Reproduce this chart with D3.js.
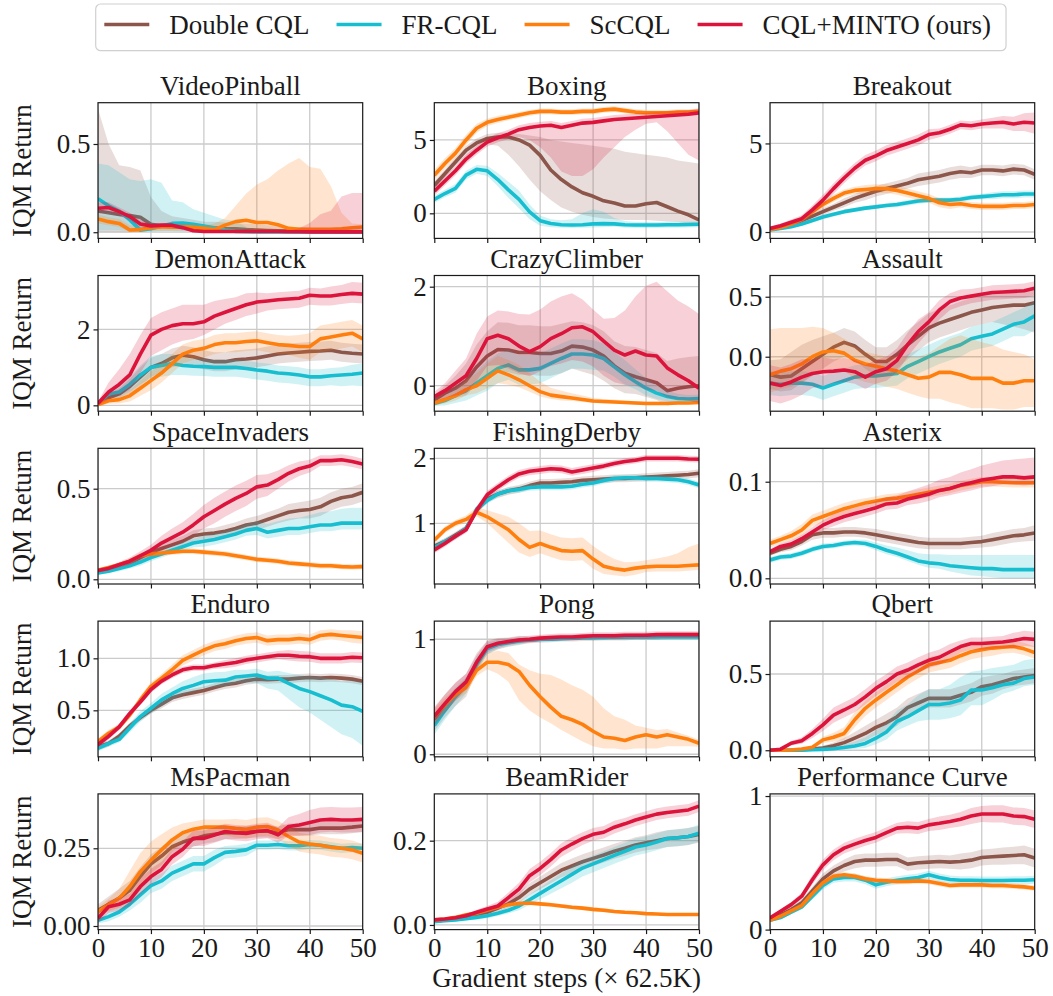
<!DOCTYPE html>
<html>
<head>
<meta charset="utf-8">
<script src="https://cdn.jsdelivr.net/npm/d3@7"></script>
<style>
  body { margin: 0; background: #fff; }
  svg { display: block; }
</style>
</head>
<body>
<svg id="chart" width="1053" height="996"></svg>
<script>
// ---------------------------------------------------------------------------
// Methods, colours and the shared x grid (gradient steps, x 62.5K)
// ---------------------------------------------------------------------------
const methods = ["Double CQL", "FR-CQL", "ScCQL", "CQL+MINTO (ours)"];
const colors = ["#8c564b", "#17becf", "#ff7f0e", "#dc143c"];
const steps = [0, 2, 4, 6, 8, 10, 12, 14, 16, 18, 20, 22, 24, 26, 28, 30, 32, 34, 36, 38, 40, 42, 44, 46, 48, 50];
const xTicks = [0, 10, 20, 30, 40, 50];

// Each game: IQM mean per method (rows: Double, FR, Sc, MINTO),
// plus distance from the mean down to / up to the confidence band.

// VideoPinball
const videoPinballMean = [
  [0.12,0.11,0.1,0.095,0.085,0.045,0.035,0.03,0.03,0.025,0.025,0.025,0.02,0.02,0.015,0.012,0.01,0.008,0.006,0.005,0.004,0.003,0.003,0.002,0.002,0.002],
  [0.19,0.15,0.12,0.07,0.012,0.02,0.035,0.05,0.052,0.045,0.035,0.025,0.012,0.005,0.003,0.002,0.002,0.002,0.002,0.002,0.002,0.002,0.002,0.002,0.002,0.002],
  [0.075,0.06,0.05,0.013,0.015,0.025,0.03,0.03,0.03,0.028,0.022,0.014,0.04,0.06,0.068,0.055,0.055,0.042,0.022,0.017,0.016,0.016,0.017,0.02,0.025,0.03],
  [0.136,0.14,0.117,0.089,0.047,0.036,0.04,0.04,0.026,0.008,0.004,0.004,0.004,0.004,0.004,0.004,0.004,0.004,0.003,0.003,0.002,0.002,0.002,0.002,0.002,0.002]
];
const videoPinballBelow = [
  [0.12,0.11,0.1,0.095,0.08,0.04,0.03,0.025,0.025,0.02,0.02,0.02,0.015,0.015,0.012,0.01,0.008,0.006,0.005,0.004,0.003,0.003,0.003,0.002,0.002,0.002],
  [0.18,0.14,0.11,0.065,0.01,0.018,0.03,0.045,0.048,0.04,0.03,0.02,0.01,0.004,0.002,0.002,0.002,0.002,0.002,0.002,0.002,0.002,0.002,0.002,0.002,0.002],
  [0.025,0.02,0.02,0.01,0.01,0.015,0.02,0.02,0.02,0.02,0.018,0.012,0.03,0.045,0.05,0.045,0.045,0.035,0.018,0.015,0.014,0.014,0.015,0.018,0.02,0.025],
  [0.03,0.03,0.025,0.02,0.02,0.015,0.015,0.015,0.012,0.006,0.004,0.004,0.004,0.004,0.004,0.004,0.004,0.004,0.003,0.003,0.002,0.002,0.002,0.002,0.002,0.002]
];
const videoPinballAbove = [
  [0.58,0.39,0.28,0.275,0.265,0.155,0.085,0.06,0.05,0.045,0.035,0.035,0.035,0.03,0.035,0.033,0.03,0.027,0.024,0.025,0.021,0.017,0.017,0.018,0.018,0.018],
  [0.2,0.23,0.22,0.23,0.278,0.28,0.245,0.13,0.118,0.085,0.075,0.065,0.058,0.06,0.027,0.013,0.008,0.008,0.008,0.008,0.008,0.008,0.008,0.008,0.008,0.008],
  [0.025,0.025,0.025,0.027,0.015,0.015,0.015,0.015,0.015,0.017,0.018,0.036,0.04,0.09,0.152,0.215,0.245,0.308,0.368,0.403,0.354,0.344,0.243,0.09,0.025,0.015],
  [0.034,0.03,0.023,0.021,0.023,0.014,0.01,0.01,0.014,0.012,0.006,0.006,0.006,0.006,0.006,0.006,0.006,0.006,0.007,0.02,0.05,0.1,0.12,0.2,0.22,0.22]
];
const videoPinballTicks = [0, 0.5];
const videoPinballTickLabels = ["0.0", "0.5"];

// Boxing
const boxingMean = [
  [1.9,2.7,3.5,4.3,4.8,5.1,5.2,5.2,5.0,4.65,3.95,2.95,2.3,1.8,1.4,1.16,0.85,0.7,0.5,0.5,0.65,0.74,0.45,0.15,-0.1,-0.45],
  [0.95,1.35,1.7,2.6,3.0,2.9,2.3,1.6,0.95,0.1,-0.5,-0.7,-0.78,-0.8,-0.78,-0.72,-0.7,-0.72,-0.78,-0.8,-0.8,-0.8,-0.78,-0.78,-0.76,-0.75],
  [2.6,3.4,4.1,5.0,5.8,6.2,6.4,6.55,6.7,6.85,6.95,6.95,6.9,6.9,6.95,6.95,7.05,7.1,7.0,6.9,6.85,6.85,6.85,6.9,6.9,6.95],
  [1.5,2.2,2.9,3.7,4.3,4.85,5.15,5.4,5.7,5.85,5.95,6.0,5.85,6.0,6.15,6.2,6.3,6.4,6.45,6.5,6.55,6.6,6.65,6.7,6.75,6.85]
];
const boxingBelow = [
  [0.3,0.3,0.3,0.4,0.4,0.4,0.6,1.2,1.8,2.35,2.45,2.05,1.9,1.7,1.5,1.41,1.2,1.1,0.95,0.95,1.1,1.24,1.0,0.75,0.6,0.35],
  [0.25,0.25,0.3,0.3,0.3,0.35,0.45,0.55,0.6,0.5,0.35,0.25,0.2,0.2,0.2,0.25,0.25,0.2,0.2,0.2,0.2,0.2,0.2,0.2,0.2,0.2],
  [0.35,0.35,0.35,0.35,0.3,0.25,0.25,0.2,0.2,0.2,0.2,0.2,0.2,0.2,0.2,0.2,0.2,0.2,0.2,0.2,0.2,0.2,0.2,0.2,0.2,0.2],
  [0.3,0.3,0.3,0.3,0.3,0.3,0.3,0.35,0.5,0.85,1.45,2.2,3.0,3.45,3.6,3.2,2.5,1.9,1.25,0.8,0.45,0.4,1.05,1.9,2.75,3.25]
];
const boxingAbove = [
  [0.3,0.3,0.3,0.3,0.3,0.3,0.3,0.3,0.4,0.65,1.25,2.05,2.6,3.0,3.3,3.44,3.65,3.7,3.7,3.6,3.35,3.16,3.35,3.45,3.6,3.85],
  [0.25,0.25,0.3,0.3,0.3,0.35,0.45,0.55,0.6,0.5,0.35,0.3,0.3,0.4,0.8,1.0,0.8,0.4,0.25,0.2,0.2,0.2,0.2,0.2,0.2,0.2],
  [0.35,0.35,0.35,0.35,0.3,0.25,0.25,0.2,0.2,0.2,0.2,0.2,0.2,0.2,0.2,0.2,0.2,0.2,0.2,0.2,0.2,0.2,0.2,0.2,0.2,0.2],
  [0.3,0.3,0.3,0.3,0.3,0.3,0.3,0.3,0.3,0.3,0.3,0.3,0.3,0.3,0.3,0.3,0.3,0.3,0.3,0.3,0.3,0.3,0.3,0.3,0.3,0.3]
];
const boxingTicks = [0, 5];
const boxingTickLabels = ["0", "5"];

// Breakout
const breakoutMean = [
  [0.15,0.25,0.4,0.65,0.9,1.15,1.4,1.65,1.9,2.1,2.3,2.45,2.6,2.75,2.95,3.05,3.15,3.3,3.4,3.35,3.5,3.5,3.45,3.55,3.5,3.25],
  [0.12,0.2,0.3,0.45,0.65,0.85,1.0,1.15,1.25,1.35,1.42,1.5,1.55,1.65,1.75,1.8,1.8,1.8,1.85,1.95,2.0,2.05,2.1,2.1,2.15,2.15],
  [0.15,0.25,0.45,0.7,1.15,1.55,1.9,2.2,2.35,2.4,2.45,2.45,2.35,2.2,2.05,1.9,1.65,1.55,1.6,1.5,1.45,1.45,1.45,1.5,1.5,1.55],
  [0.2,0.35,0.55,0.75,1.25,1.8,2.45,3.05,3.6,4.05,4.3,4.6,4.8,5.0,5.2,5.5,5.6,5.8,6.05,6.0,6.1,6.15,6.2,6.1,6.2,6.15]
];
const breakoutBelow = [
  [0.1,0.1,0.12,0.15,0.15,0.2,0.2,0.25,0.25,0.3,0.3,0.3,0.3,0.3,0.35,0.35,0.35,0.35,0.35,0.3,0.3,0.3,0.3,0.3,0.3,0.3],
  [0.08,0.08,0.1,0.1,0.12,0.12,0.12,0.12,0.12,0.12,0.12,0.12,0.15,0.15,0.15,0.15,0.15,0.15,0.15,0.15,0.15,0.2,0.2,0.2,0.2,0.2],
  [0.1,0.1,0.12,0.15,0.2,0.2,0.2,0.2,0.2,0.25,0.25,0.25,0.25,0.25,0.25,0.25,0.25,0.25,0.2,0.2,0.2,0.2,0.2,0.2,0.2,0.2],
  [0.1,0.12,0.15,0.2,0.25,0.3,0.3,0.3,0.3,0.3,0.3,0.3,0.3,0.3,0.3,0.3,0.25,0.25,0.25,0.25,0.25,0.3,0.35,0.4,0.5,0.6]
];
const breakoutAbove = breakoutBelow;
const breakoutTicks = [0, 5];
const breakoutTickLabels = ["0", "5"];

// DemonAttack
const demonAttackMean = [
  [0.05,0.2,0.3,0.5,0.75,1.0,1.1,1.25,1.32,1.28,1.2,1.15,1.15,1.2,1.22,1.25,1.3,1.35,1.38,1.4,1.42,1.43,1.45,1.4,1.37,1.35],
  [0.05,0.3,0.35,0.55,0.8,1.0,1.05,1.1,1.05,1.03,1.02,1.0,1.0,1.0,0.97,0.93,0.9,0.85,0.83,0.8,0.75,0.75,0.78,0.8,0.82,0.85],
  [0.02,0.12,0.15,0.25,0.45,0.65,0.85,1.1,1.35,1.45,1.5,1.6,1.65,1.65,1.68,1.7,1.65,1.6,1.58,1.55,1.55,1.75,1.8,1.85,1.9,1.75],
  [0.05,0.35,0.55,0.8,1.35,1.85,2.0,2.1,2.15,2.15,2.2,2.35,2.45,2.55,2.65,2.72,2.75,2.78,2.8,2.82,2.9,2.88,2.88,2.92,2.95,2.93]
];
const demonAttackBelow = [
  [0.05,0.1,0.15,0.2,0.25,0.25,0.25,0.25,0.25,0.25,0.25,0.25,0.25,0.25,0.25,0.25,0.25,0.25,0.25,0.25,0.25,0.25,0.25,0.25,0.25,0.25],
  [0.05,0.1,0.15,0.2,0.25,0.3,0.3,0.3,0.25,0.25,0.25,0.25,0.25,0.25,0.25,0.25,0.25,0.25,0.25,0.25,0.25,0.25,0.25,0.3,0.3,0.35],
  [0.05,0.08,0.1,0.15,0.2,0.25,0.25,0.25,0.25,0.25,0.25,0.25,0.25,0.25,0.25,0.25,0.25,0.25,0.25,0.3,0.35,0.35,0.35,0.35,0.35,0.35],
  [0.05,0.2,0.3,0.4,0.5,0.55,0.55,0.5,0.45,0.4,0.35,0.35,0.3,0.3,0.3,0.3,0.25,0.25,0.25,0.25,0.25,0.25,0.25,0.25,0.25,0.25]
];
const demonAttackAbove = [
  [0.05,0.1,0.15,0.2,0.25,0.25,0.25,0.25,0.25,0.25,0.25,0.25,0.25,0.25,0.25,0.25,0.25,0.25,0.25,0.25,0.25,0.25,0.25,0.25,0.25,0.25],
  [0.05,0.1,0.15,0.2,0.25,0.3,0.3,0.25,0.2,0.2,0.2,0.2,0.2,0.2,0.2,0.2,0.2,0.2,0.2,0.2,0.2,0.2,0.2,0.2,0.25,0.25],
  [0.05,0.08,0.1,0.15,0.2,0.25,0.25,0.25,0.25,0.25,0.25,0.25,0.25,0.25,0.25,0.25,0.25,0.25,0.25,0.3,0.35,0.35,0.35,0.35,0.35,0.35],
  [0.05,0.25,0.4,0.55,0.5,0.45,0.45,0.45,0.5,0.5,0.45,0.4,0.35,0.3,0.3,0.25,0.2,0.2,0.2,0.2,0.2,0.2,0.25,0.25,0.3,0.3]
];
const demonAttackTicks = [0, 2];
const demonAttackTickLabels = ["0", "2"];

// CrazyClimber
const crazyClimberMean = [
  [-0.29,-0.15,-0.05,0.1,0.38,0.6,0.73,0.72,0.67,0.67,0.65,0.65,0.7,0.8,0.78,0.72,0.6,0.4,0.25,0.18,0.12,0.06,-0.1,-0.05,-0.02,0.0],
  [-0.36,-0.3,-0.2,-0.1,0.05,0.2,0.35,0.42,0.32,0.32,0.35,0.45,0.55,0.64,0.64,0.62,0.55,0.38,0.22,0.08,-0.05,-0.15,-0.22,-0.26,-0.27,-0.26],
  [-0.35,-0.28,-0.2,-0.08,0.0,0.15,0.3,0.22,0.12,0.0,-0.12,-0.19,-0.22,-0.25,-0.28,-0.31,-0.32,-0.33,-0.34,-0.35,-0.36,-0.36,-0.36,-0.35,-0.35,-0.34],
  [-0.22,-0.1,0.05,0.2,0.55,0.95,1.02,0.95,0.8,0.69,0.79,0.95,1.05,1.17,1.19,1.09,0.9,0.72,0.62,0.7,0.62,0.6,0.36,0.22,0.1,-0.05]
];
const crazyClimberBelow = [
  [0.1,0.15,0.2,0.3,0.35,0.4,0.45,0.45,0.45,0.45,0.45,0.45,0.45,0.45,0.5,0.5,0.5,0.45,0.4,0.35,0.35,0.35,0.3,0.3,0.3,0.3],
  [0.05,0.1,0.15,0.2,0.25,0.3,0.3,0.3,0.3,0.3,0.3,0.3,0.3,0.3,0.3,0.3,0.25,0.2,0.2,0.15,0.15,0.12,0.1,0.08,0.08,0.08],
  [0.05,0.08,0.1,0.12,0.15,0.2,0.25,0.2,0.15,0.12,0.1,0.08,0.08,0.06,0.05,0.04,0.04,0.03,0.03,0.03,0.03,0.03,0.03,0.03,0.03,0.03],
  [0.1,0.15,0.25,0.35,0.45,0.55,0.6,0.6,0.55,0.5,0.5,0.55,0.6,0.65,0.7,0.7,0.7,0.65,0.6,0.7,0.7,0.7,0.6,0.5,0.4,0.3]
];
const crazyClimberAbove = [
  [0.1,0.15,0.25,0.35,0.45,0.5,0.55,0.55,0.55,0.55,0.55,0.55,0.55,0.5,0.5,0.5,0.5,0.5,0.55,0.6,0.6,0.6,0.6,0.6,0.6,0.6],
  [0.05,0.1,0.15,0.2,0.25,0.3,0.3,0.3,0.3,0.3,0.3,0.3,0.3,0.3,0.3,0.3,0.3,0.3,0.3,0.25,0.2,0.15,0.12,0.1,0.08,0.08],
  [0.05,0.08,0.12,0.2,0.25,0.3,0.3,0.3,0.3,0.25,0.2,0.15,0.12,0.1,0.08,0.06,0.05,0.05,0.04,0.04,0.04,0.04,0.04,0.04,0.04,0.04],
  [0.1,0.15,0.25,0.35,0.5,0.45,0.5,0.55,0.65,0.75,0.75,0.75,0.75,0.7,0.55,0.45,0.45,0.65,0.9,1.1,1.4,1.5,1.55,1.5,1.5,1.5]
];
const crazyClimberTicks = [0, 2];
const crazyClimberTickLabels = ["0", "2"];

// Assault
const assaultMean = [
  [-0.15,-0.17,-0.16,-0.1,-0.04,0.02,0.08,0.12,0.09,0.02,-0.04,-0.04,0.02,0.1,0.17,0.24,0.28,0.31,0.34,0.37,0.39,0.41,0.42,0.43,0.43,0.45],
  [-0.22,-0.23,-0.22,-0.22,-0.23,-0.26,-0.23,-0.2,-0.17,-0.16,-0.16,-0.15,-0.14,-0.08,-0.04,0.0,0.04,0.07,0.1,0.15,0.17,0.19,0.23,0.27,0.29,0.34],
  [-0.15,-0.12,-0.1,-0.06,0.0,0.04,0.05,0.03,-0.03,-0.06,-0.08,-0.1,-0.12,-0.15,-0.18,-0.17,-0.13,-0.13,-0.15,-0.18,-0.18,-0.18,-0.22,-0.22,-0.2,-0.2],
  [-0.22,-0.24,-0.21,-0.17,-0.14,-0.125,-0.12,-0.11,-0.125,-0.17,-0.125,-0.1,-0.03,0.1,0.21,0.29,0.39,0.46,0.49,0.505,0.52,0.535,0.54,0.545,0.55,0.57]
];
const assaultBelow = [
  [0.12,0.12,0.12,0.12,0.12,0.12,0.12,0.12,0.12,0.12,0.12,0.12,0.12,0.12,0.12,0.12,0.12,0.12,0.12,0.12,0.12,0.12,0.15,0.18,0.2,0.25],
  [0.1,0.1,0.1,0.1,0.1,0.1,0.1,0.1,0.1,0.1,0.1,0.1,0.1,0.1,0.1,0.1,0.1,0.1,0.1,0.1,0.1,0.1,0.1,0.1,0.12,0.12],
  [0.15,0.15,0.15,0.15,0.15,0.15,0.15,0.15,0.15,0.15,0.15,0.15,0.15,0.15,0.15,0.18,0.22,0.25,0.25,0.25,0.25,0.25,0.22,0.22,0.22,0.22],
  [0.15,0.15,0.15,0.15,0.12,0.12,0.1,0.1,0.1,0.1,0.1,0.1,0.1,0.1,0.1,0.08,0.08,0.07,0.07,0.06,0.06,0.06,0.06,0.06,0.06,0.06]
];
const assaultAbove = [
  [0.12,0.15,0.2,0.2,0.18,0.15,0.12,0.12,0.12,0.12,0.12,0.12,0.12,0.12,0.12,0.12,0.12,0.12,0.12,0.12,0.12,0.12,0.12,0.12,0.12,0.12],
  [0.1,0.1,0.1,0.1,0.1,0.1,0.1,0.1,0.1,0.1,0.1,0.1,0.1,0.1,0.1,0.1,0.1,0.1,0.1,0.1,0.1,0.1,0.1,0.1,0.12,0.12],
  [0.38,0.36,0.34,0.3,0.25,0.2,0.15,0.12,0.12,0.1,0.1,0.1,0.12,0.15,0.18,0.2,0.22,0.28,0.33,0.33,0.3,0.28,0.28,0.26,0.22,0.18],
  [0.15,0.15,0.15,0.15,0.12,0.12,0.1,0.1,0.1,0.1,0.1,0.1,0.1,0.1,0.1,0.08,0.08,0.07,0.07,0.06,0.06,0.06,0.06,0.06,0.06,0.06]
];
const assaultTicks = [0, 0.5];
const assaultTickLabels = ["0.0", "0.5"];

// SpaceInvaders
const spaceInvadersMean = [
  [0.04,0.05,0.07,0.09,0.12,0.15,0.17,0.19,0.21,0.24,0.25,0.255,0.265,0.28,0.3,0.31,0.33,0.35,0.37,0.38,0.385,0.4,0.43,0.45,0.46,0.48],
  [0.035,0.045,0.06,0.075,0.095,0.12,0.14,0.16,0.18,0.2,0.21,0.22,0.235,0.25,0.27,0.28,0.26,0.27,0.28,0.28,0.29,0.3,0.3,0.31,0.31,0.31],
  [0.05,0.065,0.08,0.1,0.13,0.14,0.145,0.15,0.155,0.155,0.15,0.145,0.14,0.13,0.12,0.11,0.105,0.1,0.09,0.085,0.08,0.075,0.075,0.07,0.068,0.07],
  [0.048,0.06,0.08,0.1,0.13,0.16,0.2,0.23,0.26,0.3,0.345,0.38,0.415,0.447,0.474,0.51,0.52,0.55,0.585,0.61,0.625,0.655,0.655,0.66,0.65,0.636]
];
const spaceInvadersBelow = [
  [0.01,0.01,0.015,0.02,0.02,0.025,0.025,0.03,0.03,0.03,0.03,0.03,0.035,0.035,0.035,0.04,0.04,0.04,0.045,0.045,0.05,0.05,0.05,0.05,0.05,0.05],
  [0.01,0.01,0.015,0.015,0.02,0.02,0.02,0.02,0.025,0.025,0.03,0.03,0.03,0.03,0.03,0.035,0.035,0.035,0.035,0.035,0.035,0.035,0.035,0.035,0.035,0.035],
  [0.01,0.01,0.012,0.015,0.015,0.015,0.015,0.015,0.015,0.015,0.015,0.015,0.015,0.015,0.015,0.015,0.015,0.015,0.015,0.015,0.015,0.015,0.015,0.015,0.015,0.015],
  [0.01,0.012,0.015,0.02,0.025,0.03,0.04,0.05,0.055,0.06,0.065,0.07,0.07,0.07,0.07,0.065,0.06,0.05,0.045,0.04,0.035,0.03,0.03,0.03,0.03,0.03]
];
const spaceInvadersAbove = [
  [0.01,0.01,0.015,0.02,0.02,0.025,0.025,0.03,0.03,0.03,0.03,0.03,0.035,0.035,0.035,0.04,0.04,0.04,0.045,0.045,0.05,0.05,0.05,0.05,0.05,0.05],
  [0.01,0.01,0.015,0.015,0.02,0.02,0.02,0.02,0.025,0.025,0.03,0.03,0.03,0.03,0.035,0.04,0.045,0.05,0.055,0.06,0.065,0.07,0.075,0.08,0.085,0.085],
  [0.01,0.01,0.012,0.015,0.015,0.015,0.015,0.015,0.015,0.015,0.015,0.015,0.015,0.015,0.015,0.015,0.015,0.015,0.015,0.015,0.015,0.015,0.015,0.015,0.015,0.015],
  [0.01,0.012,0.015,0.02,0.025,0.03,0.04,0.05,0.055,0.06,0.065,0.07,0.07,0.07,0.07,0.065,0.06,0.05,0.045,0.04,0.035,0.03,0.03,0.03,0.03,0.03]
];
const spaceInvadersTicks = [0, 0.5];
const spaceInvadersTickLabels = ["0.0", "0.5"];

// FishingDerby
const fishingDerbyMean = [
  [0.65,0.72,0.82,0.92,1.2,1.38,1.45,1.5,1.53,1.58,1.62,1.62,1.63,1.64,1.66,1.67,1.68,1.69,1.69,1.7,1.71,1.72,1.73,1.74,1.75,1.77],
  [0.62,0.72,0.8,0.92,1.22,1.35,1.45,1.5,1.52,1.55,1.56,1.56,1.56,1.57,1.6,1.62,1.66,1.69,1.7,1.7,1.69,1.69,1.68,1.67,1.64,1.59],
  [0.74,0.9,1.0,1.06,1.17,1.1,1.0,0.9,0.75,0.63,0.69,0.63,0.58,0.57,0.58,0.45,0.34,0.3,0.28,0.31,0.33,0.34,0.34,0.34,0.35,0.36],
  [0.59,0.69,0.8,0.9,1.2,1.44,1.56,1.67,1.76,1.8,1.82,1.84,1.83,1.79,1.82,1.85,1.88,1.92,1.95,1.97,2.0,2.0,2.0,2.0,1.99,1.985]
];
const fishingDerbyBelow = [
  [0.05,0.05,0.05,0.05,0.06,0.06,0.06,0.06,0.06,0.06,0.06,0.06,0.06,0.06,0.06,0.06,0.06,0.06,0.06,0.06,0.06,0.06,0.06,0.06,0.06,0.06],
  [0.05,0.05,0.05,0.05,0.05,0.05,0.05,0.05,0.05,0.05,0.05,0.05,0.05,0.05,0.05,0.05,0.05,0.05,0.05,0.05,0.05,0.05,0.05,0.05,0.05,0.05],
  [0.05,0.05,0.05,0.05,0.06,0.1,0.15,0.2,0.2,0.15,0.15,0.15,0.15,0.15,0.15,0.15,0.12,0.1,0.1,0.1,0.08,0.08,0.08,0.08,0.08,0.08],
  [0.05,0.05,0.05,0.05,0.06,0.06,0.06,0.06,0.06,0.06,0.06,0.06,0.06,0.06,0.06,0.06,0.05,0.05,0.05,0.05,0.05,0.05,0.05,0.05,0.05,0.05]
];
const fishingDerbyAbove = [
  [0.05,0.05,0.05,0.05,0.06,0.06,0.06,0.06,0.06,0.06,0.06,0.06,0.06,0.06,0.06,0.06,0.06,0.06,0.06,0.06,0.06,0.06,0.06,0.06,0.06,0.06],
  [0.05,0.05,0.05,0.05,0.05,0.05,0.05,0.05,0.05,0.05,0.05,0.05,0.05,0.05,0.05,0.05,0.05,0.05,0.05,0.05,0.05,0.05,0.05,0.05,0.05,0.05],
  [0.05,0.05,0.05,0.06,0.08,0.1,0.15,0.2,0.25,0.25,0.2,0.2,0.2,0.2,0.2,0.2,0.2,0.15,0.12,0.1,0.1,0.12,0.15,0.2,0.28,0.33],
  [0.05,0.05,0.05,0.05,0.06,0.06,0.06,0.06,0.06,0.06,0.06,0.06,0.06,0.06,0.06,0.06,0.05,0.05,0.05,0.05,0.05,0.05,0.05,0.05,0.05,0.05]
];
const fishingDerbyTicks = [1, 2];
const fishingDerbyTickLabels = ["1", "2"];

// Asterix
const asterixMean = [
  [0.026,0.03,0.033,0.038,0.045,0.047,0.047,0.048,0.048,0.047,0.045,0.043,0.041,0.039,0.037,0.036,0.036,0.036,0.036,0.037,0.038,0.04,0.042,0.044,0.045,0.047],
  [0.019,0.022,0.023,0.026,0.03,0.033,0.034,0.036,0.037,0.036,0.033,0.029,0.026,0.022,0.018,0.016,0.015,0.013,0.012,0.011,0.01,0.01,0.009,0.009,0.009,0.009],
  [0.036,0.04,0.044,0.05,0.06,0.064,0.068,0.072,0.075,0.078,0.08,0.082,0.083,0.085,0.087,0.089,0.091,0.093,0.096,0.098,0.1,0.1,0.0995,0.099,0.099,0.099],
  [0.0276,0.033,0.0355,0.041,0.048,0.055,0.06,0.064,0.067,0.07,0.073,0.077,0.078,0.082,0.0845,0.087,0.091,0.093,0.0965,0.099,0.1017,0.1034,0.105,0.105,0.104,0.105]
];
const asterixBelow = [
  [0.003,0.003,0.004,0.004,0.005,0.005,0.005,0.005,0.005,0.005,0.006,0.006,0.006,0.006,0.006,0.006,0.006,0.006,0.006,0.006,0.006,0.007,0.007,0.007,0.007,0.008],
  [0.003,0.003,0.003,0.003,0.003,0.003,0.003,0.003,0.003,0.003,0.004,0.004,0.004,0.004,0.004,0.005,0.005,0.006,0.007,0.008,0.008,0.009,0.009,0.009,0.009,0.009],
  [0.004,0.004,0.005,0.006,0.006,0.006,0.006,0.006,0.006,0.005,0.005,0.005,0.005,0.005,0.005,0.005,0.005,0.005,0.005,0.005,0.005,0.005,0.005,0.005,0.005,0.005],
  [0.003,0.003,0.004,0.004,0.005,0.005,0.006,0.006,0.006,0.006,0.006,0.006,0.006,0.006,0.007,0.007,0.007,0.007,0.008,0.008,0.008,0.008,0.008,0.008,0.008,0.008]
];
const asterixAbove = [
  [0.003,0.003,0.004,0.004,0.005,0.005,0.005,0.005,0.005,0.005,0.006,0.006,0.006,0.006,0.006,0.006,0.006,0.006,0.006,0.006,0.006,0.007,0.007,0.007,0.007,0.008],
  [0.003,0.003,0.003,0.003,0.003,0.003,0.003,0.003,0.003,0.004,0.004,0.005,0.006,0.007,0.008,0.009,0.01,0.011,0.012,0.013,0.014,0.014,0.015,0.015,0.015,0.015],
  [0.004,0.004,0.005,0.006,0.006,0.006,0.006,0.006,0.006,0.005,0.005,0.005,0.005,0.005,0.005,0.005,0.005,0.005,0.005,0.005,0.005,0.005,0.005,0.005,0.005,0.005],
  [0.003,0.003,0.004,0.004,0.005,0.005,0.006,0.006,0.006,0.006,0.007,0.007,0.008,0.008,0.009,0.01,0.011,0.012,0.013,0.014,0.015,0.016,0.017,0.018,0.02,0.02]
];
const asterixTicks = [0, 0.1];
const asterixTickLabels = ["0.0", "0.1"];

// Enduro
const enduroMean = [
  [0.15,0.18,0.25,0.35,0.43,0.5,0.56,0.62,0.65,0.67,0.69,0.72,0.745,0.76,0.785,0.8,0.795,0.8,0.8,0.81,0.815,0.81,0.815,0.81,0.8,0.78],
  [0.135,0.18,0.22,0.33,0.44,0.52,0.6,0.66,0.71,0.74,0.775,0.785,0.79,0.82,0.83,0.84,0.81,0.81,0.76,0.71,0.68,0.64,0.6,0.55,0.535,0.49],
  [0.2,0.28,0.34,0.455,0.6,0.73,0.81,0.89,0.98,1.03,1.08,1.12,1.14,1.17,1.19,1.2,1.17,1.18,1.18,1.19,1.18,1.22,1.23,1.22,1.21,1.2],
  [0.17,0.25,0.34,0.47,0.58,0.7,0.78,0.84,0.89,0.91,0.91,0.93,0.945,0.96,0.985,1.0,1.016,1.03,1.03,1.02,1.016,1.0,1.0,1.0,1.01,1.006]
];
const enduroBelow = [
  [0.03,0.03,0.03,0.03,0.03,0.03,0.04,0.04,0.04,0.04,0.04,0.04,0.04,0.04,0.04,0.04,0.04,0.04,0.04,0.04,0.04,0.04,0.04,0.04,0.04,0.04],
  [0.03,0.03,0.03,0.04,0.05,0.05,0.06,0.06,0.06,0.06,0.06,0.06,0.06,0.06,0.07,0.08,0.1,0.12,0.15,0.18,0.2,0.23,0.26,0.28,0.3,0.33],
  [0.03,0.03,0.03,0.03,0.04,0.04,0.04,0.05,0.05,0.05,0.05,0.05,0.05,0.05,0.05,0.05,0.05,0.05,0.05,0.05,0.05,0.05,0.05,0.05,0.06,0.06],
  [0.03,0.03,0.03,0.03,0.03,0.03,0.03,0.03,0.03,0.03,0.03,0.03,0.04,0.04,0.04,0.04,0.04,0.04,0.05,0.05,0.05,0.05,0.05,0.05,0.05,0.05]
];
const enduroAbove = [
  [0.03,0.03,0.03,0.03,0.03,0.03,0.04,0.04,0.04,0.04,0.04,0.04,0.04,0.04,0.04,0.04,0.04,0.04,0.04,0.04,0.04,0.04,0.04,0.04,0.04,0.04],
  [0.03,0.03,0.03,0.04,0.05,0.05,0.06,0.06,0.07,0.08,0.08,0.08,0.08,0.07,0.06,0.06,0.06,0.07,0.1,0.13,0.15,0.18,0.2,0.23,0.25,0.28],
  [0.03,0.03,0.03,0.03,0.04,0.04,0.04,0.05,0.05,0.05,0.05,0.05,0.05,0.05,0.05,0.05,0.05,0.05,0.05,0.05,0.05,0.05,0.05,0.05,0.06,0.06],
  [0.03,0.03,0.03,0.03,0.03,0.03,0.03,0.03,0.03,0.03,0.03,0.03,0.04,0.04,0.04,0.04,0.04,0.04,0.05,0.05,0.05,0.05,0.05,0.05,0.05,0.05]
];
const enduroTicks = [0.5, 1.0];
const enduroTickLabels = ["0.5", "1.0"];

// Pong
const pongMean = [
  [0.3,0.42,0.52,0.6,0.8,0.93,0.96,0.975,0.99,0.995,1.0,1.005,1.01,1.01,1.015,1.015,1.02,1.02,1.02,1.025,1.025,1.025,1.03,1.03,1.03,1.03],
  [0.25,0.38,0.5,0.6,0.78,0.92,0.955,0.97,0.985,0.995,1.0,1.0,1.005,1.01,1.015,1.015,1.015,1.02,1.02,1.02,1.02,1.02,1.02,1.02,1.02,1.02],
  [0.33,0.43,0.52,0.58,0.73,0.8,0.8,0.78,0.72,0.6,0.5,0.41,0.33,0.3,0.26,0.2,0.15,0.14,0.12,0.15,0.17,0.15,0.17,0.15,0.13,0.096],
  [0.33,0.44,0.545,0.63,0.8,0.935,0.965,0.98,0.994,1.0,1.01,1.015,1.02,1.02,1.025,1.03,1.03,1.03,1.035,1.035,1.035,1.04,1.04,1.04,1.04,1.04]
];
const pongBelow = [
  [0.1,0.1,0.1,0.1,0.08,0.06,0.05,0.04,0.04,0.03,0.03,0.03,0.03,0.03,0.03,0.03,0.03,0.03,0.03,0.03,0.03,0.03,0.03,0.03,0.03,0.03],
  [0.08,0.08,0.08,0.07,0.06,0.05,0.04,0.03,0.03,0.02,0.02,0.02,0.02,0.02,0.02,0.02,0.02,0.02,0.02,0.02,0.02,0.02,0.02,0.02,0.02,0.02],
  [0.06,0.06,0.05,0.05,0.05,0.06,0.1,0.15,0.25,0.22,0.18,0.14,0.12,0.14,0.15,0.13,0.1,0.09,0.08,0.1,0.12,0.1,0.1,0.08,0.06,0.03],
  [0.08,0.08,0.08,0.07,0.06,0.05,0.04,0.03,0.03,0.03,0.03,0.03,0.03,0.03,0.03,0.03,0.03,0.03,0.03,0.03,0.03,0.03,0.03,0.03,0.03,0.03]
];
const pongAbove = [
  [0.1,0.1,0.1,0.1,0.08,0.06,0.05,0.04,0.04,0.03,0.03,0.03,0.03,0.03,0.03,0.03,0.03,0.03,0.03,0.03,0.03,0.03,0.03,0.03,0.03,0.03],
  [0.08,0.08,0.08,0.07,0.06,0.05,0.04,0.03,0.03,0.02,0.02,0.02,0.02,0.02,0.02,0.02,0.02,0.02,0.02,0.02,0.02,0.02,0.02,0.02,0.02,0.02],
  [0.06,0.06,0.05,0.05,0.05,0.08,0.1,0.1,0.06,0.13,0.2,0.28,0.32,0.3,0.3,0.3,0.25,0.19,0.18,0.1,0.06,0.06,0.05,0.04,0.03,0.03],
  [0.08,0.08,0.08,0.07,0.06,0.05,0.04,0.03,0.03,0.03,0.03,0.03,0.03,0.03,0.03,0.03,0.03,0.03,0.03,0.03,0.03,0.03,0.03,0.03,0.03,0.03]
];
const pongTicks = [0, 1];
const pongTickLabels = ["0", "1"];

// Qbert
const qbertMean = [
  [0.0,0.0,0.0,0.003,0.008,0.015,0.03,0.05,0.08,0.11,0.15,0.18,0.22,0.28,0.31,0.34,0.34,0.34,0.36,0.38,0.417,0.43,0.45,0.47,0.48,0.49],
  [0.0,0.0,0.0,0.0,0.003,0.006,0.01,0.018,0.028,0.045,0.079,0.12,0.19,0.22,0.26,0.3,0.3,0.31,0.33,0.395,0.395,0.41,0.43,0.44,0.47,0.48],
  [0.0,0.0,0.002,0.008,0.02,0.068,0.085,0.11,0.2,0.275,0.33,0.38,0.43,0.48,0.52,0.56,0.575,0.59,0.62,0.646,0.66,0.67,0.675,0.68,0.665,0.64],
  [0.0,0.007,0.046,0.063,0.11,0.166,0.23,0.264,0.3,0.35,0.406,0.45,0.5,0.526,0.56,0.59,0.61,0.646,0.68,0.7,0.7,0.705,0.71,0.72,0.733,0.727]
];
const qbertBelow = [
  [0.003,0.003,0.003,0.005,0.01,0.015,0.02,0.03,0.04,0.05,0.05,0.06,0.06,0.06,0.06,0.06,0.06,0.06,0.06,0.06,0.06,0.06,0.05,0.05,0.05,0.05],
  [0.003,0.003,0.003,0.003,0.003,0.005,0.008,0.012,0.02,0.03,0.04,0.05,0.06,0.06,0.07,0.1,0.1,0.1,0.1,0.1,0.1,0.08,0.06,0.05,0.05,0.05],
  [0.003,0.003,0.003,0.005,0.01,0.02,0.03,0.04,0.05,0.05,0.05,0.05,0.05,0.05,0.05,0.05,0.05,0.05,0.05,0.05,0.05,0.05,0.04,0.04,0.04,0.04],
  [0.003,0.005,0.015,0.02,0.03,0.04,0.05,0.05,0.05,0.05,0.05,0.05,0.05,0.05,0.05,0.05,0.05,0.05,0.04,0.04,0.04,0.04,0.04,0.05,0.05,0.05]
];
const qbertAbove = [
  [0.003,0.003,0.003,0.005,0.01,0.015,0.02,0.03,0.04,0.05,0.05,0.06,0.06,0.06,0.06,0.06,0.06,0.06,0.06,0.06,0.06,0.06,0.05,0.05,0.05,0.05],
  [0.003,0.003,0.003,0.003,0.003,0.005,0.01,0.02,0.03,0.04,0.05,0.06,0.07,0.08,0.1,0.1,0.1,0.12,0.15,0.12,0.13,0.13,0.12,0.12,0.12,0.12],
  [0.003,0.003,0.003,0.005,0.01,0.02,0.03,0.04,0.05,0.05,0.05,0.05,0.05,0.05,0.05,0.05,0.05,0.05,0.05,0.05,0.05,0.05,0.04,0.04,0.04,0.04],
  [0.003,0.005,0.015,0.02,0.03,0.04,0.05,0.05,0.05,0.05,0.05,0.05,0.05,0.05,0.05,0.05,0.05,0.05,0.04,0.04,0.04,0.04,0.04,0.05,0.05,0.05]
];
const qbertTicks = [0, 0.5];
const qbertTickLabels = ["0.0", "0.5"];

// MsPacman
const msPacmanMean = [
  [0.05,0.07,0.09,0.115,0.16,0.2,0.225,0.255,0.27,0.28,0.29,0.295,0.3,0.3,0.302,0.305,0.305,0.3,0.31,0.31,0.31,0.315,0.315,0.315,0.318,0.322],
  [0.018,0.03,0.045,0.07,0.1,0.13,0.145,0.17,0.185,0.2,0.2,0.22,0.237,0.24,0.245,0.26,0.26,0.262,0.258,0.258,0.262,0.26,0.255,0.25,0.252,0.25],
  [0.046,0.068,0.089,0.127,0.175,0.212,0.245,0.277,0.3,0.311,0.318,0.318,0.318,0.314,0.311,0.318,0.32,0.309,0.288,0.27,0.264,0.26,0.253,0.25,0.245,0.234],
  [0.025,0.062,0.07,0.084,0.127,0.159,0.182,0.223,0.247,0.282,0.282,0.293,0.304,0.3,0.298,0.304,0.307,0.293,0.32,0.325,0.333,0.341,0.343,0.341,0.341,0.343]
];
const msPacmanBelow = [
  [0.02,0.025,0.03,0.03,0.03,0.03,0.03,0.025,0.025,0.025,0.025,0.025,0.02,0.02,0.02,0.02,0.02,0.02,0.02,0.02,0.02,0.02,0.02,0.02,0.02,0.02],
  [0.01,0.015,0.015,0.02,0.025,0.025,0.025,0.025,0.025,0.025,0.025,0.025,0.02,0.02,0.02,0.015,0.015,0.015,0.015,0.015,0.015,0.015,0.015,0.015,0.015,0.015],
  [0.015,0.02,0.03,0.05,0.06,0.06,0.05,0.04,0.03,0.025,0.025,0.025,0.025,0.03,0.03,0.03,0.03,0.03,0.03,0.03,0.03,0.03,0.03,0.03,0.03,0.03],
  [0.015,0.02,0.02,0.02,0.025,0.025,0.025,0.025,0.025,0.025,0.025,0.025,0.025,0.025,0.025,0.025,0.025,0.025,0.03,0.035,0.04,0.04,0.04,0.04,0.04,0.04]
];
const msPacmanAbove = msPacmanBelow;
const msPacmanTicks = [0, 0.25];
const msPacmanTickLabels = ["0.00", "0.25"];

// BeamRider
const beamRiderMean = [
  [0.01,0.012,0.015,0.02,0.025,0.03,0.04,0.05,0.065,0.085,0.1,0.115,0.13,0.14,0.15,0.158,0.166,0.175,0.182,0.19,0.195,0.2,0.205,0.207,0.21,0.215],
  [0.008,0.01,0.012,0.015,0.018,0.022,0.028,0.035,0.045,0.06,0.075,0.09,0.105,0.12,0.135,0.145,0.155,0.165,0.175,0.185,0.19,0.197,0.205,0.207,0.21,0.218],
  [0.012,0.014,0.018,0.024,0.028,0.035,0.042,0.048,0.051,0.052,0.05,0.048,0.045,0.042,0.04,0.037,0.035,0.032,0.03,0.029,0.027,0.026,0.025,0.025,0.025,0.025],
  [0.012,0.014,0.017,0.022,0.03,0.038,0.045,0.065,0.085,0.117,0.134,0.155,0.178,0.192,0.205,0.215,0.22,0.232,0.24,0.249,0.256,0.263,0.267,0.27,0.273,0.282]
];
const beamRiderBelow = [
  [0.003,0.003,0.004,0.005,0.006,0.007,0.008,0.01,0.012,0.014,0.015,0.016,0.017,0.018,0.018,0.018,0.018,0.018,0.018,0.018,0.018,0.02,0.02,0.02,0.02,0.02],
  [0.003,0.003,0.003,0.004,0.005,0.006,0.007,0.008,0.01,0.012,0.014,0.016,0.018,0.02,0.02,0.02,0.02,0.02,0.02,0.02,0.02,0.02,0.02,0.02,0.02,0.02],
  [0.003,0.003,0.003,0.004,0.004,0.004,0.004,0.005,0.005,0.005,0.005,0.005,0.005,0.005,0.005,0.005,0.005,0.004,0.004,0.004,0.003,0.003,0.003,0.003,0.003,0.003],
  [0.003,0.003,0.004,0.005,0.006,0.007,0.01,0.012,0.015,0.016,0.016,0.016,0.016,0.016,0.015,0.015,0.015,0.015,0.014,0.014,0.014,0.014,0.014,0.014,0.014,0.014]
];
const beamRiderAbove = beamRiderBelow;
const beamRiderTicks = [0, 0.2];
const beamRiderTickLabels = ["0.0", "0.2"];

// Performance Curve (aggregate)
const performanceMean = [
  [0.075,0.11,0.15,0.2,0.29,0.38,0.44,0.48,0.51,0.52,0.52,0.525,0.525,0.49,0.5,0.505,0.51,0.505,0.51,0.52,0.54,0.545,0.55,0.555,0.56,0.535],
  [0.07,0.09,0.13,0.17,0.25,0.33,0.38,0.39,0.39,0.37,0.335,0.355,0.37,0.38,0.39,0.41,0.39,0.375,0.37,0.37,0.368,0.368,0.368,0.37,0.37,0.373],
  [0.07,0.1,0.14,0.18,0.27,0.35,0.4,0.41,0.4,0.38,0.37,0.365,0.36,0.36,0.365,0.36,0.345,0.33,0.335,0.335,0.335,0.33,0.33,0.325,0.32,0.31],
  [0.087,0.137,0.187,0.25,0.373,0.485,0.56,0.61,0.64,0.667,0.69,0.726,0.76,0.766,0.76,0.784,0.796,0.81,0.826,0.85,0.866,0.866,0.866,0.85,0.846,0.826]
];
const performanceBelow = [
  [0.01,0.015,0.02,0.025,0.03,0.04,0.04,0.045,0.05,0.05,0.05,0.05,0.05,0.05,0.05,0.05,0.05,0.05,0.06,0.06,0.06,0.06,0.065,0.065,0.07,0.07],
  [0.01,0.012,0.015,0.02,0.025,0.03,0.03,0.03,0.03,0.03,0.03,0.03,0.03,0.03,0.03,0.03,0.03,0.03,0.03,0.03,0.03,0.03,0.03,0.03,0.03,0.03],
  [0.01,0.012,0.015,0.02,0.02,0.02,0.02,0.02,0.02,0.02,0.02,0.02,0.02,0.02,0.02,0.02,0.02,0.02,0.02,0.02,0.02,0.02,0.02,0.02,0.02,0.02],
  [0.01,0.015,0.02,0.025,0.035,0.04,0.04,0.04,0.04,0.04,0.04,0.04,0.04,0.045,0.045,0.045,0.05,0.05,0.055,0.06,0.06,0.065,0.065,0.065,0.065,0.065]
];
const performanceAbove = performanceBelow;
const performanceTicks = [0, 1];
const performanceTickLabels = ["0", "1"];

// Panel order (row-major, three per row) with each panel's y-axis limits
const panels = [
  { title: "VideoPinball", mean: videoPinballMean, below: videoPinballBelow, above: videoPinballAbove, yLim: [-0.035, 0.734], ticks: videoPinballTicks, tickLabels: videoPinballTickLabels },
  { title: "Boxing", mean: boxingMean, below: boxingBelow, above: boxingAbove, yLim: [-1.71, 7.54], ticks: boxingTicks, tickLabels: boxingTickLabels },
  { title: "Breakout", mean: breakoutMean, below: breakoutBelow, above: breakoutAbove, yLim: [-0.36, 7.3], ticks: breakoutTicks, tickLabels: breakoutTickLabels },
  { title: "DemonAttack", mean: demonAttackMean, below: demonAttackBelow, above: demonAttackAbove, yLim: [-0.155, 3.42], ticks: demonAttackTicks, tickLabels: demonAttackTickLabels },
  { title: "CrazyClimber", mean: crazyClimberMean, below: crazyClimberBelow, above: crazyClimberAbove, yLim: [-0.515, 2.226], ticks: crazyClimberTicks, tickLabels: crazyClimberTickLabels },
  { title: "Assault", mean: assaultMean, below: assaultBelow, above: assaultAbove, yLim: [-0.454, 0.677], ticks: assaultTicks, tickLabels: assaultTickLabels },
  { title: "SpaceInvaders", mean: spaceInvadersMean, below: spaceInvadersBelow, above: spaceInvadersAbove, yLim: [-0.026, 0.723], ticks: spaceInvadersTicks, tickLabels: spaceInvadersTickLabels },
  { title: "FishingDerby", mean: fishingDerbyMean, below: fishingDerbyBelow, above: fishingDerbyAbove, yLim: [0.066, 2.154], ticks: fishingDerbyTicks, tickLabels: fishingDerbyTickLabels },
  { title: "Asterix", mean: asterixMean, below: asterixBelow, above: asterixAbove, yLim: [-0.0059, 0.1346], ticks: asterixTicks, tickLabels: asterixTickLabels },
  { title: "Enduro", mean: enduroMean, below: enduroBelow, above: enduroAbove, yLim: [0.053, 1.358], ticks: enduroTicks, tickLabels: enduroTickLabels },
  { title: "Pong", mean: pongMean, below: pongBelow, above: pongAbove, yLim: [-0.022, 1.158], ticks: pongTicks, tickLabels: pongTickLabels },
  { title: "Qbert", mean: qbertMean, below: qbertBelow, above: qbertAbove, yLim: [-0.043, 0.847], ticks: qbertTicks, tickLabels: qbertTickLabels },
  { title: "MsPacman", mean: msPacmanMean, below: msPacmanBelow, above: msPacmanAbove, yLim: [-0.0116, 0.425], ticks: msPacmanTicks, tickLabels: msPacmanTickLabels },
  { title: "BeamRider", mean: beamRiderMean, below: beamRiderBelow, above: beamRiderAbove, yLim: [-0.011, 0.311], ticks: beamRiderTicks, tickLabels: beamRiderTickLabels },
  { title: "Performance Curve", mean: performanceMean, below: performanceBelow, above: performanceAbove, yLim: [0, 1.016], ticks: performanceTicks, tickLabels: performanceTickLabels }
];

// ---------------------------------------------------------------------------
// Layout
// ---------------------------------------------------------------------------
const FONT_FAMILY = "Liberation Serif";
const FONT = 27;
const colLeft = [98, 434.3, 770];
const rowTop = [102.7, 275.5, 448.3, 621.1, 793.9];
const panelW = 264.7, panelH = 135.7;
const gridColor = "#cbcbcb";
const inkColor = "#1a1a1a";

const svg = d3.select("#chart")
  .attr("font-family", FONT_FAMILY).attr("font-size", FONT);
svg.append("rect").attr("width", 1053).attr("height", 996).attr("fill", "#fff");
const defs = svg.append("defs");

function label(sel) {
  return sel.attr("font-family", FONT_FAMILY).attr("font-size", FONT).attr("fill", inkColor);
}

panels.forEach((p, i) => {
  const r = Math.floor(i / 3), c = i % 3;
  const left = colLeft[c], top = rowTop[r];
  const x = d3.scaleLinear().domain([0, 50]).range([left, left + panelW]);
  const y = d3.scaleLinear().domain(p.yLim).range([top + panelH, top]);
  const g = svg.append("g");

  const clipId = "clip" + i;
  defs.append("clipPath").attr("id", clipId)
    .append("rect").attr("x", left).attr("y", top).attr("width", panelW).attr("height", panelH);

  // grid
  const grid = g.append("g").attr("clip-path", `url(#${clipId})`);
  grid.selectAll("line.gx").data(xTicks).join("line")
    .attr("x1", d => x(d)).attr("x2", d => x(d))
    .attr("y1", top).attr("y2", top + panelH)
    .attr("stroke", gridColor).attr("stroke-width", 1.3);
  grid.selectAll("line.gy").data(p.ticks).join("line")
    .attr("x1", left).attr("x2", left + panelW)
    .attr("y1", d => y(d)).attr("y2", d => y(d))
    .attr("stroke", gridColor).attr("stroke-width", 1.3);

  // bands and mean curves
  const plot = g.append("g").attr("clip-path", `url(#${clipId})`);
  methods.forEach((m, k) => {
    const mean = p.mean[k], lo = p.below[k], hi = p.above[k];
    const band = d3.area()
      .x((d, j) => x(steps[j]))
      .y0((d, j) => y(d - lo[j]))
      .y1((d, j) => y(d + hi[j]));
    plot.append("path").attr("d", band(mean))
      .attr("fill", colors[k]).attr("fill-opacity", 0.2).attr("stroke", "none");
    const line = d3.line().x((d, j) => x(steps[j])).y(d => y(d));
    plot.append("path").attr("d", line(mean))
      .attr("fill", "none").attr("stroke", colors[k])
      .attr("stroke-width", 3.6).attr("stroke-linejoin", "round").attr("stroke-linecap", "butt");
  });

  // axes
  const xAxis = d3.axisBottom(x).tickValues(xTicks).tickSize(4.5).tickSizeOuter(0).tickPadding(4)
    .tickFormat(r === 4 ? d3.format("d") : () => "");
  const yAxis = d3.axisLeft(y).tickValues(p.ticks).tickSize(4.5).tickSizeOuter(0).tickPadding(3)
    .tickFormat((d, j) => p.tickLabels[j]);

  const gx = g.append("g").attr("transform", `translate(0,${top + panelH})`).call(xAxis);
  const gy = g.append("g").attr("transform", `translate(${left},0)`).call(yAxis);
  [gx, gy].forEach(a => {
    a.select(".domain").remove();
    a.attr("font-family", FONT_FAMILY).attr("font-size", FONT);
    a.selectAll(".tick line").attr("stroke", inkColor).attr("stroke-width", 1.2);
    label(a.selectAll(".tick text"));
  });

  // frame
  g.append("rect").attr("x", left).attr("y", top).attr("width", panelW).attr("height", panelH)
    .attr("fill", "none").attr("stroke", inkColor).attr("stroke-width", 1.2);

  // title
  label(g.append("text")).attr("x", left + panelW / 2).attr("y", top - 7.7)
    .attr("text-anchor", "middle").text(p.title);

  // y label on the first column
  if (c === 0) {
    label(g.append("text"))
      .attr("transform", `translate(31,${top + panelH / 2}) rotate(-90)`)
      .attr("text-anchor", "middle").text("IQM Return");
  }
});

// shared x label
label(svg.append("text")).attr("x", colLeft[1] + panelW / 2).attr("y", 987)
  .attr("text-anchor", "middle").text("Gradient steps (\u00d7 62.5K)");

// ---------------------------------------------------------------------------
// Legend
// ---------------------------------------------------------------------------
const legend = svg.append("g");
const frame = legend.append("rect")
  .attr("x", 95.7).attr("y", 4).attr("height", 46.7).attr("rx", 5).attr("ry", 5)
  .attr("fill", "#fff").attr("stroke", "#d0d0d0").attr("stroke-width", 1.2);
let cursor = 104.3;
const handleLen = 45, handleGap = 20, itemGap = 27;
methods.forEach((m, k) => {
  legend.append("line").attr("x1", cursor).attr("x2", cursor + handleLen)
    .attr("y1", 24.5).attr("y2", 24.5)
    .attr("stroke", colors[k]).attr("stroke-width", 3.6);
  const t = label(legend.append("text")).attr("x", cursor + handleLen + handleGap).attr("y", 34.3).text(m);
  const w = t.node().getComputedTextLength();
  cursor = cursor + handleLen + handleGap + w + itemGap;
});
frame.attr("width", cursor - itemGap + 15 - 95.7);
</script>
</body>
</html>
